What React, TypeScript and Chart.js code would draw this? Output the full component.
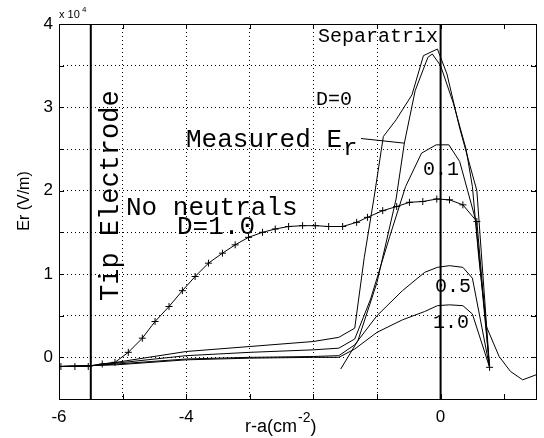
import React, { useEffect, useRef } from "react";
import { Chart, registerables } from "chart.js";
Chart.register(...registerables);

// x: r-a (cm), y: Er (x 1e4 V/m)
const noNeutralsX = [-5.97, -5.75, -5.54, -5.32, -5.12, -4.91, -4.69, -4.49, -4.27, -4.06, -3.86, -3.65, -3.43, -3.23, -3.02, -2.8, -2.6, -2.39, -2.17, -1.97, -1.76, -1.54, -1.32, -1.15, -0.91, -0.69, -0.49, -0.28, -0.06, 0.14, 0.35, 0.57, 0.77];
const noNeutralsY = [-0.11, -0.11, -0.11, -0.08, -0.06, 0.06, 0.23, 0.43, 0.61, 0.8, 0.97, 1.13, 1.25, 1.35, 1.44, 1.5, 1.54, 1.57, 1.58, 1.58, 1.57, 1.57, 1.62, 1.68, 1.76, 1.81, 1.86, 1.87, 1.9, 1.89, 1.83, 1.63, -0.12];

const d0X = [-6, -5.5, -5.1, -4, -3, -2, -1.6, -1.35, -1.2, -1.05, -0.9, -0.7, -0.45, -0.27, -0.05, 0.1, 0.3, 0.57, 0.77];
const d0Y = [-0.11, -0.1, -0.06, 0.07, 0.13, 0.19, 0.24, 0.35, 1.2, 1.9, 2.65, 2.85, 3.15, 3.62, 3.7, 3.4, 2.75, 2.0, -0.12];

const d01X = [-6, -5.5, -5.1, -4, -3, -2, -1.6, -1.35, -1.1, -0.8, -0.55, -0.3, -0.07, 0.13, 0.3, 0.55, 0.77];
const d01Y = [-0.11, -0.1, -0.07, 0.02, 0.06, 0.09, 0.11, 0.22, 0.7, 1.45, 2.05, 2.45, 2.55, 2.55, 2.35, 1.65, -0.12];

const d05X = [-6, -5.5, -5.1, -4, -3, -2, -1.6, -1.35, -1.0, -0.6, -0.25, -0.05, 0.14, 0.35, 0.5, 0.77];
const d05Y = [-0.11, -0.1, -0.08, -0.02, 0.0, 0.01, 0.02, 0.15, 0.5, 0.8, 1.02, 1.08, 1.1, 1.08, 0.95, -0.12];

const d10X = [-6, -5.5, -5.1, -4, -3, -2, -1.6, -1.35, -1.0, -0.6, -0.25, -0.05, 0.14, 0.35, 0.5, 0.77];
const d10Y = [-0.11, -0.1, -0.09, -0.03, -0.01, 0.0, 0.0, 0.1, 0.3, 0.45, 0.55, 0.62, 0.63, 0.62, 0.52, -0.12];

const measuredX = [-1.57, -1.3, -1.0, -0.7, -0.57, -0.4, -0.2, -0.13, 0.0, 0.2, 0.4, 0.5, 0.6, 0.72, 0.92, 1.1, 1.29, 1.5];
const measuredY = [-0.14, 0.2, 0.9, 1.9, 2.57, 3.2, 3.6, 3.64, 3.5, 3.05, 2.5, 2.05, 1.2, 0.37, 0.01, -0.17, -0.27, -0.21];

const separatrixX = 0;
const tipElectrodeX = -5.5;
const yRange = [-0.5, 4];
const xRange = [-6, 1.5];

const pts = (xs: number[], ys: number[]) => xs.map((x, i) => ({ x, y: ys[i] }));

const lineDs = (data: { x: number; y: number }[], extra: any = {}) => ({
  data,
  borderColor: "#000",
  backgroundColor: "#000",
  borderWidth: 1,
  pointRadius: 0,
  showLine: true,
  tension: 0,
  ...extra,
});

const annotPlugin = {
  id: "annot",
  afterDraw(chart: any) {
    const { ctx, chartArea: a } = chart;
    const xs = chart.scales.x;
    const ys = chart.scales.y;
    const X = (v: number) => xs.getPixelForValue(v);
    const Y = (v: number) => ys.getPixelForValue(v);
    ctx.save();
    ctx.strokeStyle = "#000";
    ctx.lineWidth = 1;
    ctx.strokeRect(Math.round(a.left) + 0.5, Math.round(a.top) + 0.5, Math.round(a.right - a.left), Math.round(a.bottom - a.top));
    ctx.beginPath();
    for (let v = -6; v <= 1; v += 1) {
      const px = Math.round(X(v)) + 0.5;
      ctx.moveTo(px, a.bottom);
      ctx.lineTo(px, a.bottom - 5);
      ctx.moveTo(px, a.top);
      ctx.lineTo(px, a.top + 5);
    }
    for (let v = -0.5; v <= 4; v += 0.5) {
      const py = Math.round(Y(v)) + 0.5;
      ctx.moveTo(a.left, py);
      ctx.lineTo(a.left + 5, py);
      ctx.moveTo(a.right, py);
      ctx.lineTo(a.right - 5, py);
    }
    ctx.stroke();

    ctx.fillStyle = "#000";
    const mono = (s: number) => `${s}px "Liberation Mono", "DejaVu Sans Mono", monospace`;
    const sans = (s: number) => `${s}px "Liberation Sans", Arial, sans-serif`;
    ctx.textBaseline = "alphabetic";
    ctx.textAlign = "left";
    ctx.font = mono(20);
    ctx.fillText("Separatrix", 318, 42);
    ctx.fillText("D=0", 316, 105);
    ctx.fillText("0.1", 423, 175);
    ctx.fillText("0.5", 435, 292);
    ctx.fillText("1.0", 433, 328);
    ctx.font = mono(26);
    ctx.fillText("Measured E", 186, 147);
    ctx.font = mono(24);
    ctx.fillText("r", 343, 155);
    ctx.font = mono(26);
    ctx.fillText("No neutrals", 126, 215);
    ctx.fillText("D=1.0", 177, 234);
    ctx.beginPath();
    ctx.moveTo(361, 138.5);
    ctx.lineTo(X(-0.57), Y(2.57));
    ctx.stroke();
    ctx.save();
    ctx.translate(118, 301);
    ctx.rotate(-Math.PI / 2);
    ctx.font = mono(27);
    ctx.fillText("Tip Electrode", 0, 0);
    ctx.restore();
    ctx.font = sans(11);
    ctx.fillText("x 10", 59, 18);
    ctx.font = sans(8);
    ctx.fillText("4", 82, 12);
    ctx.font = sans(18);
    ctx.fillText("r-a(cm", 245, 432);
    const w = ctx.measureText("r-a(cm").width;
    ctx.font = sans(14);
    ctx.fillText("-2", 245 + w + 1, 422);
    const w2 = ctx.measureText("-2").width;
    ctx.font = sans(18);
    ctx.fillText(")", 245 + w + w2 + 1, 432);
    ctx.save();
    ctx.translate(29, 201);
    ctx.rotate(-Math.PI / 2);
    ctx.textAlign = "center";
    ctx.font = sans(16);
    ctx.fillText("Er (V/m)", 0, 0);
    ctx.restore();
    ctx.restore();
  },
};

export default function App() {
  const ref = useRef<HTMLCanvasElement>(null);
  useEffect(() => {
    if (!ref.current) return;
    const chart = new Chart(ref.current, {
      type: "scatter",
      data: {
        datasets: [
          lineDs(pts(noNeutralsX, noNeutralsY), { pointRadius: 3.5, pointStyle: "cross", pointBorderWidth: 1 }),
          lineDs(pts(d0X, d0Y)),
          lineDs(pts(d01X, d01Y)),
          lineDs(pts(d05X, d05Y)),
          lineDs(pts(d10X, d10Y)),
          lineDs(pts(measuredX, measuredY)),
          lineDs(pts([separatrixX, separatrixX], yRange), { borderWidth: 2 }),
          lineDs(pts([tipElectrodeX, tipElectrodeX], yRange), { borderWidth: 2 }),
        ],
      },
      options: {
        responsive: false,
        animation: false,
        events: [],
        layout: { padding: { left: 0, top: 24, right: 7, bottom: 0 } },
        plugins: { legend: { display: false }, tooltip: { enabled: false } },
        scales: {
          x: {
            type: "linear",
            min: xRange[0],
            max: xRange[1],
            afterFit: (s: any) => { s.height = 39; },
            ticks: {
              stepSize: 1,
              autoSkip: false,
              maxRotation: 0,
              color: "#000",
              padding: 8,
              font: { family: '"Liberation Sans", Arial, sans-serif', size: 17 },
              callback: (v: any) => {
                const n = Number(v);
                return n === -6 || n === -4 || n === 0 ? String(n) : "";
              },
            },
            grid: { color: "#000", lineWidth: 1, drawTicks: false },
            border: { display: false, dash: [1, 3] },
          },
          y: {
            type: "linear",
            min: yRange[0],
            max: yRange[1],
            afterFit: (s: any) => { s.width = 59; },
            ticks: {
              stepSize: 0.5,
              autoSkip: false,
              color: "#000",
              padding: 6,
              font: { family: '"Liberation Sans", Arial, sans-serif', size: 17 },
              callback: (v: any) => (Number.isInteger(Number(v)) ? String(Number(v)) : ""),
            },
            grid: { color: "#000", lineWidth: 1, drawTicks: false },
            border: { display: false, dash: [1, 3] },
          },
        },
      },
      plugins: [annotPlugin],
    });
    return () => chart.destroy();
  }, []);
  return (
    <div style={{ position: "fixed", left: 0, top: 0, width: 544, height: 438, background: "#fff" }}>
      <canvas ref={ref} width={544} height={438} style={{ width: 544, height: 438 }} />
    </div>
  );
}
